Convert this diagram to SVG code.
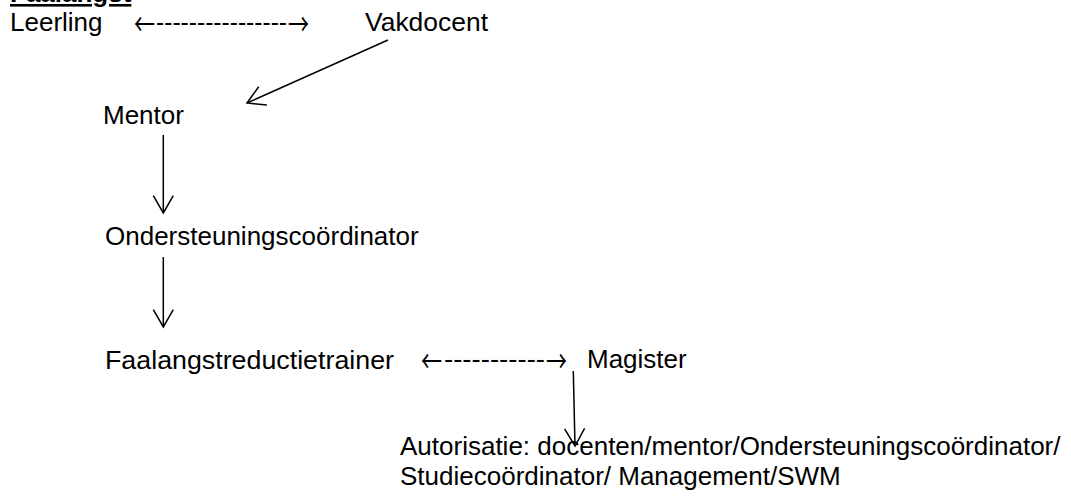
<svg xmlns="http://www.w3.org/2000/svg" width="1071" height="498" viewBox="0 0 1071 498">
<style>
  .t { font-family: "Liberation Sans", Arial, sans-serif; font-size: 26px; fill: #000; }
  .title { font-weight: bold; text-decoration: underline; }
  .ar { font-family: "Noto Sans CJK SC", "DejaVu Sans", sans-serif; font-size: 30px; fill: #000; }
  .c { stroke: #000; stroke-width: 1.5; fill: none; }
</style>
<defs>
  <marker id="ah" markerUnits="userSpaceOnUse" markerWidth="22" markerHeight="24" refX="18" refY="11" orient="auto" overflow="visible">
    <path d="M0.7,1 L18,11 L0.7,21" fill="none" stroke="#000" stroke-width="1.5"/>
  </marker>
</defs>
<rect width="1071" height="498" fill="#fff"/>
<g id="title"><text class="t title" x="10" y="2">Faalangst</text></g>
<g id="leerling"><text class="t" x="10" y="31">Leerling</text></g>
<g id="link1">
  <text class="ar" x="134" y="35" textLength="21" lengthAdjust="spacingAndGlyphs">←</text>
  <text class="t" x="156" y="31" textLength="131" lengthAdjust="spacingAndGlyphs">----------------</text>
  <text class="ar" x="288" y="35" textLength="21" lengthAdjust="spacingAndGlyphs">→</text>
</g>
<g id="vakdocent"><text class="t" x="365" y="31" textLength="123" lengthAdjust="spacingAndGlyphs">Vakdocent</text></g>
<g id="mentor"><text class="t" x="103" y="124">Mentor</text></g>
<g id="ondersteuning"><text class="t" x="105" y="245">Ondersteuningscoördinator</text></g>
<g id="faalangstreductietrainer"><text class="t" x="105" y="369" textLength="289" lengthAdjust="spacingAndGlyphs">Faalangstreductietrainer</text></g>
<g id="link2">
  <text class="ar" x="421" y="372" textLength="21" lengthAdjust="spacingAndGlyphs">←</text>
  <text class="t" x="444" y="368" textLength="101" lengthAdjust="spacingAndGlyphs">-----------</text>
  <text class="ar" x="546" y="372" textLength="21" lengthAdjust="spacingAndGlyphs">→</text>
</g>
<g id="magister"><text class="t" x="587" y="368">Magister</text></g>
<g id="autorisatie">
  <text class="t" x="400" y="455">Autorisatie: docenten/mentor/Ondersteuningscoördinator/</text>
  <text class="t" x="400" y="485">Studiecoördinator/ Management/SWM</text>
</g>
<g id="connectors">
  <line class="c" x1="388" y1="40" x2="247" y2="103" marker-end="url(#ah)"/>
  <line class="c" x1="163.3" y1="135" x2="163.3" y2="213" marker-end="url(#ah)"/>
  <line class="c" x1="163.3" y1="257" x2="163.3" y2="327" marker-end="url(#ah)"/>
  <line class="c" x1="573.3" y1="371" x2="575" y2="446" marker-end="url(#ah)"/>
</g>
</svg>
